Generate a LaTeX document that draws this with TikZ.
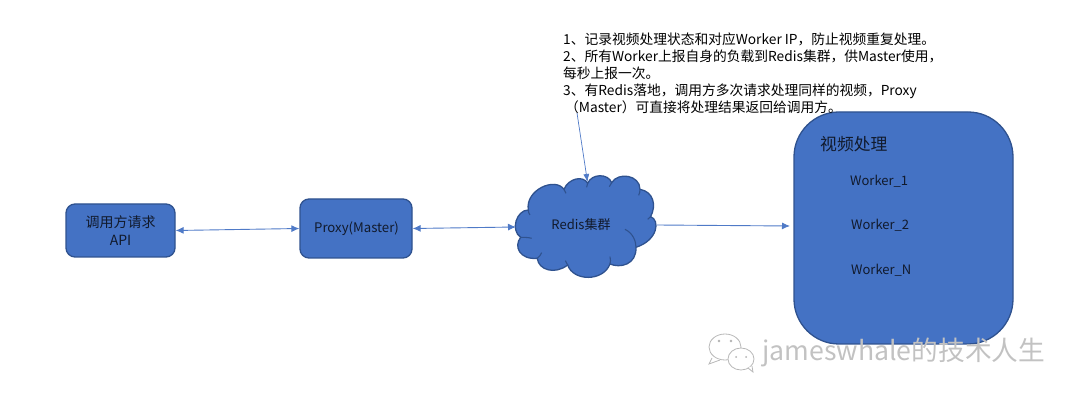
\documentclass[tikz,border=0pt]{standalone}
\usepackage{fontspec}
\setmainfont{Noto Sans CJK SC}
\definecolor{boxfill}{HTML}{4472C4}
\definecolor{boxline}{HTML}{2F528F}
\definecolor{linkc}{HTML}{4F7AC7}
\definecolor{inktext}{HTML}{111A2C}
\usetikzlibrary{arrows.meta}
\tikzset{
  blockbox/.style={draw=boxline,line width=1.3pt,fill=boxfill,rounded corners=#1,inner sep=0pt},
  boxtext/.style={text=inktext,font=\fontsize{13.2}{18}\selectfont,align=center,inner sep=0pt},
  workertext/.style={text=inktext,font=\fontsize{13}{15}\selectfont,anchor=west,inner sep=0pt},
  notetext/.style={text=black,font=\fontsize{13.75}{16.9}\selectfont,align=left,anchor=north west,inner sep=0pt},
  link/.style={draw=linkc,line width=0.9pt,-{Latex[length=8pt,width=7pt]}},
  dlink/.style={draw=linkc,line width=0.9pt,{Latex[length=8pt,width=7pt]}-{Latex[length=8pt,width=7pt]}},
  thinlink/.style={draw=linkc,line width=0.7pt,-{Latex[length=8pt,width=6pt]}},
  wmtext/.style={text=black!24,font=\fontsize{26.7}{28}\selectfont,anchor=west,inner sep=0pt},
  wmbubble/.style={draw=black!28,fill=white,line width=0.8pt},
  wmdot/.style={fill=black!30}
}
\begin{document}
\begin{tikzpicture}[x=1pt,y=-1pt]
\useasboundingbox (0,0) rectangle (1080,403);
% boxes
\node[blockbox=9pt,minimum width=109pt,minimum height=53pt] (api) at (120.5,230.5) {};
\node[boxtext,font=\fontsize{14}{18}\selectfont] (apit) at (120.5,231) {调用方请求\\API};
\node[blockbox=9pt,minimum width=112pt,minimum height=59pt] (proxy) at (356,228.5) {};
\node[boxtext] (proxyt) at (356.5,228.5) {Proxy(Master)};
\node[blockbox=45pt,minimum width=219pt,minimum height=232pt] (video) at (903.5,228) {};
\node[text=inktext,font=\fontsize{16.8}{18}\selectfont,anchor=west,inner sep=0pt] (vt) at (820,144.5) {视频处理};
\node[workertext] (w1) at (850,181) {Worker\_1};
\node[workertext] (w2) at (851,225) {Worker\_2};
\node[workertext] (w3) at (851,270) {Worker\_N};
% cloud
\begin{scope}[shift={(500,150)},x=0.3333pt,y=-0.3333pt]
\draw[draw=boxline,line width=1.3pt,fill=boxfill]
 (85,180) .. controls (75,120) and (165,80) .. (192,118)
 .. controls (205,85) and (250,75) .. (263,100)
 .. controls (275,70) and (325,70) .. (335,98)
 .. controls (355,65) and (420,75) .. (420,118)
 .. controls (460,125) and (470,165) .. (452,200)
 .. controls (480,210) and (475,270) .. (408,292)
 .. controls (410,345) and (360,355) .. (330,342)
 .. controls (310,395) and (220,395) .. (203,345)
 .. controls (165,375) and (115,360) .. (112,325)
 .. controls (60,330) and (40,290) .. (62,262)
 .. controls (30,240) and (50,180) .. (85,180) -- cycle;
\draw[draw=boxline,line width=1.1pt] (62,262) .. controls (72,262) and (85,262) .. (95,265);
\draw[draw=boxline,line width=1.1pt] (112,325) .. controls (118,320) and (122,315) .. (125,308);
\draw[draw=boxline,line width=1.1pt] (85,180) .. controls (85,185) and (86,190) .. (90,195);
\draw[draw=boxline,line width=1.1pt] (192,118) .. controls (194,122) and (196,125) .. (198,130);
\draw[draw=boxline,line width=1.1pt] (263,100) .. controls (262,104) and (261,108) .. (260,112);
\draw[draw=boxline,line width=1.1pt] (335,98) .. controls (333,102) and (331,106) .. (328,110);
\draw[draw=boxline,line width=1.1pt] (420,118) .. controls (420,124) and (419,130) .. (416,136);
\draw[draw=boxline,line width=1.1pt] (452,200) .. controls (450,203) and (447,206) .. (443,208);
\draw[draw=boxline,line width=1.1pt] (408,292) .. controls (408,275) and (400,250) .. (375,238);
\draw[draw=boxline,line width=1.1pt] (330,342) .. controls (332,335) and (332,328) .. (330,320);
\draw[draw=boxline,line width=1.1pt] (203,345) .. controls (200,340) and (198,336) .. (196,332);
\end{scope}
\node[boxtext,font=\fontsize{13}{15}\selectfont] (redis) at (581,225) {Redis集群};
\coordinate (redisw) at (516,227);
\coordinate (redise) at (657,225);
\coordinate (redisn) at (587.5,182);
\coordinate (videow) at (790,226);
% note
\node[notetext] (note) at (563,33) {1、记录视频处理状态和对应Worker IP，防止视频重复处理。\\2、所有Worker上报自身的负载到Redis集群，供Master使用，\\每秒上报一次。\\3、有Redis落地，调用方多次请求处理同样的视频，Proxy\\\hspace*{2pt}（Master）可直接将处理结果返回给调用方。};
\coordinate (notes) at (577,113);
% connectors
\draw[dlink] (api.east) -- (proxy.west);
\draw[dlink] (proxy.east) -- (redisw);
\draw[link] (redise) -- (videow);
\draw[thinlink] (notes) -- (redisn);
% watermark
\draw[wmbubble] (725,347) ellipse [x radius=16pt,y radius=13pt];
\draw[wmbubble] (712,358) -- (709,364) -- (720,360);
\draw[wmbubble] (741,359) ellipse [x radius=13pt,y radius=11pt];
\draw[wmbubble] (748,368) -- (753,372) -- (752,366);
\fill[wmdot] (719,341) circle (1.3pt) (731,341) circle (1.3pt) (736,357) circle (1pt) (746,357) circle (1pt);
\node[wmtext] (wm) at (762,352) {jameswhale的技术人生};
\end{tikzpicture}
\end{document}
